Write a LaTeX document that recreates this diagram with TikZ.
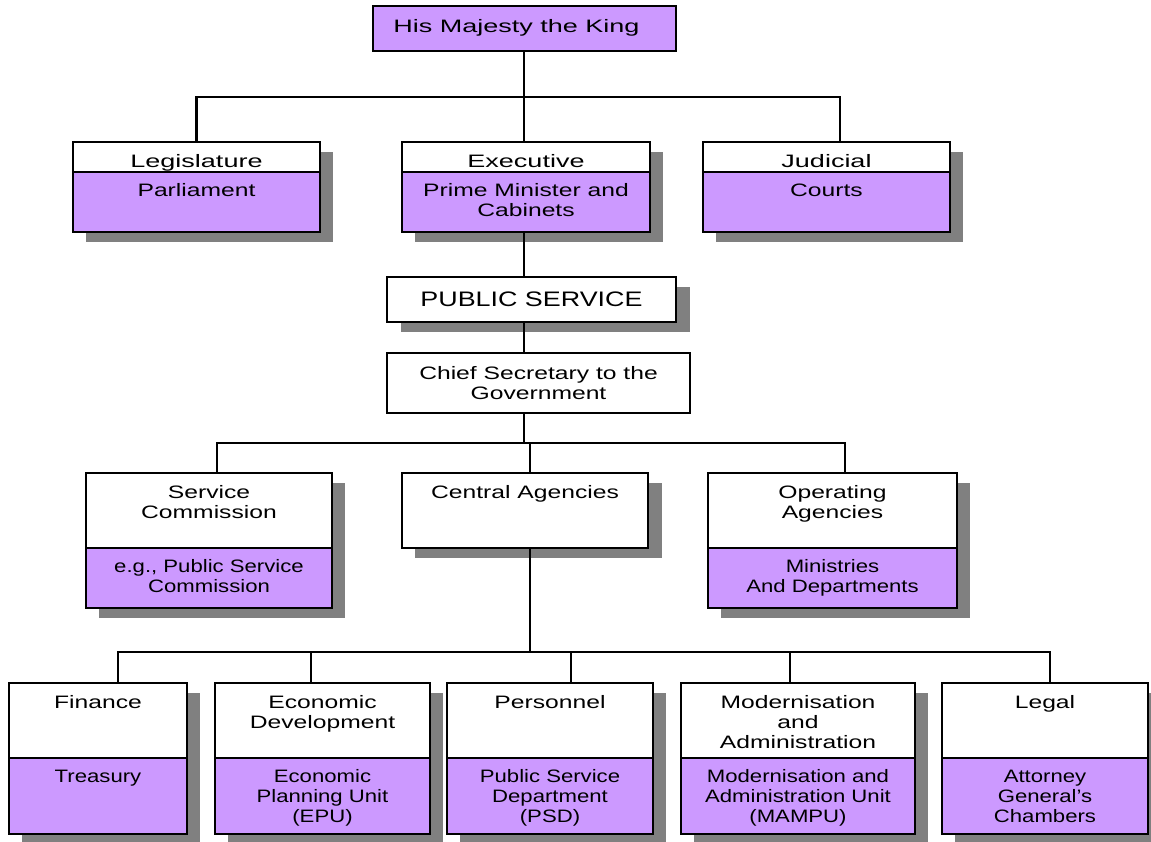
\documentclass[tikz,border=0pt]{standalone}
\usepackage{fontspec}
\setmainfont{Liberation Sans}
\newfontfamily\kfA[FakeStretch=1.5]{Liberation Sans}
\newfontfamily\kfB[FakeStretch=1.37]{Liberation Sans}
\newfontfamily\kfC[FakeStretch=1.23]{Liberation Sans}
\newfontfamily\kfE[FakeStretch=1.28]{Liberation Sans}
\definecolor{kpurple}{HTML}{CC99FF}
\definecolor{shadowc}{HTML}{808080}
\tikzset{
  boxst/.style={draw, line width=1.2pt, inner sep=0pt, outer sep=0pt},
  conn/.style={line width=2.8pt},
  r2head/.style={inner sep=0pt, align=center, font=\fontsize{18}{20}\kfA},
  r2body/.style={inner sep=0pt, align=center, font=\fontsize{18}{20}\kfB},
  r3head/.style={inner sep=0pt, align=center, font=\fontsize{18}{20}\kfB},
  r3body/.style={inner sep=0pt, align=center, font=\fontsize{18}{20}\kfC},
}
% name, x1, y1, x2, ysep, y2, header, body, row style
\newcommand\twobox[9]{%
  \fill[shadowc] (#2+13,#3+10) rectangle (#4+13,#6+10);
  \node[boxst, fill=white, minimum width={#4-#2}, minimum height={#6-#3}] (#1) at ({(#2+#4)/2},{(#3+#6)/2}) {};
  \node[boxst, fill=kpurple, minimum width={#4-#2}, minimum height={#6-#5}, anchor=south] (#1-b) at (#1.south) {};
  \node[#9head, anchor=north] (#1-h) at ({(#2+#4)/2},#3+11) {\strut #7};
  \node[#9body, anchor=north] (#1-p) at ({(#2+#4)/2},#5+10) {\strut #8};
}
\begin{document}
\begin{tikzpicture}[x=1pt,y=-1pt]
\useasboundingbox (0,0) rectangle (1151,841);

% King
\node[boxst, fill=kpurple, minimum width=303pt, minimum height=45pt] (king) at (524.5,28.5) {};
\node[inner sep=0pt, font=\fontsize{18}{20}\kfA] (king-t) at (516.5,27.5) {His Majesty the King};

% Row 2
\twobox{leg}{73}{142}{320}{172}{232}{Legislature}{Parliament}{r2}
\twobox{exe}{402}{142}{650}{172}{232}{Executive}{Prime Minister and\\Cabinets}{r2}
\twobox{jud}{703}{142}{950}{172}{232}{Judicial}{Courts}{r2}

% Public service
\fill[shadowc] (401,287) rectangle (690,332);
\node[boxst, fill=white, minimum width=289pt, minimum height=45pt, font=\fontsize{21}{24}\kfE] (ps) at (531.5,299.5) {PUBLIC SERVICE};

% Chief secretary
\node[boxst, fill=white, minimum width=303pt, minimum height=60pt, align=center, font=\fontsize{18}{20}\kfB] (chief) at (538.5,383) {Chief Secretary to the\\Government};

% Row 3
\twobox{sc}{86}{473}{332}{548}{608}{Service\\Commission}{e.g., Public Service\\Commission}{r3}
\fill[shadowc] (415,483) rectangle (662,558);
\node[boxst, fill=white, minimum width=246pt, minimum height=75pt] (ca) at (525,510.5) {};
\node[r3head, anchor=north] (ca-h) at (525,484) {\strut Central Agencies};
\twobox{oa}{708}{473}{957}{548}{608}{Operating\\Agencies}{Ministries\\And Departments}{r3}

% Row 4
\twobox{fin}{9}{683}{187}{758}{834}{Finance}{Treasury}{r3}
\twobox{eco}{215}{683}{430}{758}{834}{Economic\\Development}{Economic\\Planning Unit\\(EPU)}{r3}
\twobox{per}{447}{683}{653}{758}{834}{Personnel}{Public Service\\Department\\(PSD)}{r3}
\twobox{mod}{681}{683}{915}{758}{834}{Modernisation\\and\\Administration}{Modernisation and\\Administration Unit\\(MAMPU)}{r3}
\twobox{lgl}{942}{683}{1148}{758}{834}{Legal}{Attorney\\General’s\\Chambers}{r3}

% Connectors
\coordinate (bus1) at (524,97);
\coordinate (bus2) at (524,443);
\coordinate (bus3) at (530,652);
\coordinate (judT) at ([xshift=13.5pt]jud.north);
\coordinate (scT) at ([xshift=8pt]sc.north);
\coordinate (oaT) at ([xshift=12.5pt]oa.north);
\coordinate (caT) at ([xshift=5pt]ca.north);
\coordinate (caB) at ([xshift=5pt]ca.south);
\coordinate (finT) at ([xshift=20pt]fin.north);
\coordinate (ecoT) at ([xshift=-11.5pt]eco.north);
\coordinate (perT) at ([xshift=21pt]per.north);
\coordinate (modT) at ([xshift=-8pt]mod.north);
\coordinate (lglT) at ([xshift=5pt]lgl.north);

\draw[conn] (king.south -| bus1) -- (bus1) -- (bus1 |- exe.north);
\draw[conn] (leg.north) |- (bus1) -| (judT);
\draw[conn] (bus1 |- exe.south) -- (bus1 |- ps.north);
\draw[conn] (bus1 |- ps.south) -- (bus1 |- chief.north);
\draw[conn] (bus1 |- chief.south) -- (bus2);
\draw[conn] (scT) |- (bus2) -| (oaT);
\draw[conn] (caT) -- (caT |- bus2);
\draw[conn] (caB) -- (bus3);
\draw[conn] (finT) |- (bus3) -| (lglT);
\draw[conn] (ecoT) -- (ecoT |- bus3);
\draw[conn] (perT) -- (perT |- bus3);
\draw[conn] (modT) -- (modT |- bus3);
\end{tikzpicture}
\end{document}
